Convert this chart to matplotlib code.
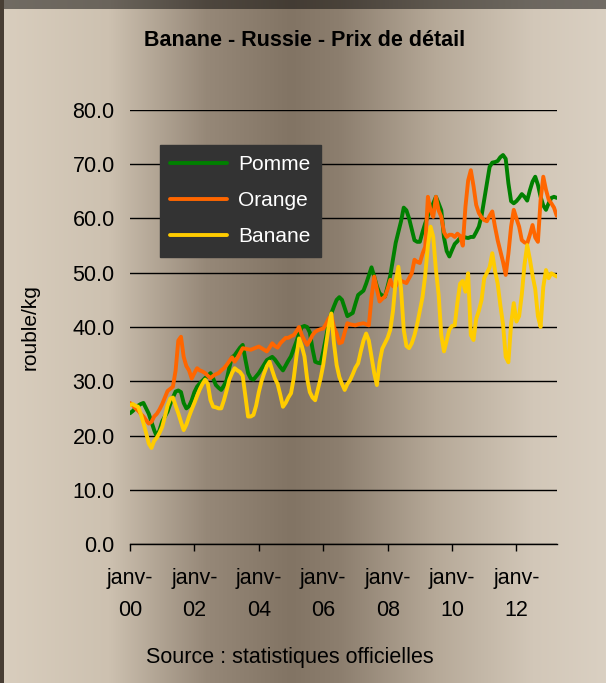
import matplotlib
matplotlib.use("Agg")
import matplotlib.pyplot as plt
import numpy as np

plt.rcParams['font.family'] = ['Liberation Sans', 'DejaVu Sans']

# monthly retail prices, Jan 2000 .. Apr 2013 (rouble/kg)
pomme = [24.1, 24.5, 25.0, 25.5, 25.8, 26.0, 25.0, 24.0, 22.5, 21.0, 19.8, 21.0,
         22.6, 23.5, 24.4, 25.8, 27.0, 28.1, 28.3, 28.0, 26.0, 25.0, 25.4, 26.5,
         28.0, 29.0, 29.6, 30.1, 30.6, 31.0, 31.5, 30.5, 29.3, 28.8, 28.4, 29.2,
         30.2, 32.5, 34.4, 34.8, 35.5, 36.2, 36.7, 34.0, 31.5, 30.5, 30.3, 30.9,
         31.5, 32.3, 33.1, 33.9, 34.2, 34.5, 34.0, 33.3, 32.6, 32.0, 32.9, 33.8,
         34.6, 36.0, 37.3, 38.7, 40.0, 40.2, 40.0, 39.0, 36.0, 33.6, 33.4, 33.3,
         35.5, 38.0, 40.5, 42.5, 43.8, 45.0, 45.5, 45.0, 43.5, 42.0, 42.3, 42.6,
         44.3, 45.9, 46.3, 46.7, 48.0, 49.5, 51.0, 49.3, 47.5, 46.2, 45.8, 45.6,
         47.5, 49.5, 52.5, 55.5, 57.5, 59.5, 62.0, 61.5, 60.0, 58.0, 56.0, 55.7,
         55.7, 57.5, 59.1, 60.5, 61.8, 62.8, 64.0, 62.8, 61.5, 56.5, 54.0, 53.0,
         54.2, 55.3, 55.8, 56.4, 56.7, 56.5, 56.4, 56.6, 56.6, 57.5, 58.5, 60.5,
         63.5, 66.5, 69.5, 70.3, 70.4, 70.6, 71.3, 71.7, 71.0, 66.5, 63.2, 62.8,
         63.2, 63.8, 64.5, 64.0, 63.3, 65.2, 66.8, 67.7, 66.2, 64.0, 62.4, 61.6,
         62.8, 63.8, 64.0, 63.8]

orange = [26.0, 25.6, 25.0, 24.6, 24.0, 23.5, 22.8, 22.2, 22.5, 23.5, 24.0, 24.8,
          25.8, 27.0, 28.2, 28.6, 29.0, 32.0, 37.5, 38.2, 34.5, 32.8, 32.0, 30.5,
          31.5, 32.4, 32.0, 31.8, 31.5, 31.0, 30.6, 31.0, 31.3, 31.5, 32.0, 32.4,
          33.0, 33.7, 34.4, 33.6, 34.3, 35.2, 36.1, 36.0, 35.9, 35.8, 36.0, 36.2,
          36.4, 36.1, 35.8, 35.5, 36.2, 37.0, 36.5, 36.2, 37.0, 37.5, 38.0, 38.0,
          38.3, 38.5, 39.2, 40.0, 38.5, 37.5, 36.7, 37.5, 38.5, 39.1, 39.4, 39.6,
          39.7, 40.5, 41.5, 42.2, 40.0, 38.8, 37.0, 37.2, 39.0, 40.7, 40.5, 40.4,
          40.3, 40.5, 40.6, 40.7, 40.5, 40.3, 45.5, 49.3, 47.0, 44.7, 45.2, 45.6,
          47.0, 48.7, 47.5, 47.5, 48.7, 48.5, 48.3, 48.1, 49.0, 49.9, 52.4, 52.0,
          51.8, 53.5, 54.8, 64.0, 61.5, 60.3, 64.0, 61.5, 60.3, 57.5, 56.6, 57.0,
          57.0, 56.6, 57.2, 56.8, 55.0, 62.2, 67.0, 68.9, 66.0, 62.5, 61.0, 60.2,
          59.7, 59.5, 60.5, 61.3, 58.5, 56.0, 54.0, 52.0, 49.6, 53.5, 58.5, 61.6,
          60.0, 58.5, 56.0, 55.6, 55.4, 57.0, 58.8, 56.5, 55.7, 63.4, 67.7, 65.3,
          63.5, 62.8, 62.0, 60.5]

banane = [25.6, 25.8, 25.5, 25.3, 24.0, 22.3, 20.5, 18.5, 17.7, 19.0, 19.6, 20.5,
          21.6, 23.5, 25.5, 26.8, 27.0, 25.5, 24.1, 22.5, 21.0, 22.0, 23.5, 24.8,
          26.0, 27.3, 28.5, 29.5, 30.3, 29.5, 26.5, 25.3, 25.2, 25.0, 25.0, 26.5,
          28.3, 30.3, 31.5, 32.4, 32.0, 31.7, 31.0, 27.2, 23.5, 23.5, 23.8, 25.5,
          28.0, 30.0, 31.5, 32.8, 33.6, 32.0, 30.5, 29.5, 27.5, 25.3, 26.0, 27.0,
          27.8, 30.5, 34.5, 37.9, 36.5, 34.6, 30.5, 28.0, 27.0, 26.5, 28.5, 30.5,
          33.0, 36.5, 40.0, 42.5, 37.0, 33.0, 30.8, 29.5, 28.4, 29.5, 30.2, 31.3,
          32.5, 33.3, 35.5, 37.5, 38.8, 37.5, 34.5, 31.5, 29.3, 33.5, 36.0, 37.0,
          38.0, 39.5, 43.0, 48.5, 51.1, 47.0, 39.5, 36.5, 36.1, 37.0, 38.5, 40.5,
          43.0, 45.5, 49.5, 55.0, 58.5, 56.6, 50.5, 46.0, 38.5, 35.5, 37.5, 39.5,
          40.2, 40.3, 44.5, 48.0, 48.5, 46.5, 49.9, 38.5, 37.6, 41.5, 43.0, 45.0,
          49.0, 50.0, 51.0, 53.6, 50.4, 48.0, 44.0, 40.5, 34.5, 33.5, 40.5, 44.4,
          41.0, 42.0, 46.0, 51.5, 55.1, 52.5, 49.5, 47.0, 42.0, 40.0, 47.4, 50.5,
          49.0, 49.9, 49.6, 49.3]

series = [("Pomme", pomme, "#008000"),
          ("Orange", orange, "#ff6600"),
          ("Banane", banane, "#ffcc00")]
tick_labels = ["janv-\n00", "janv-\n02", "janv-\n04", "janv-\n06",
               "janv-\n08", "janv-\n10", "janv-\n12"]

W, H = 606, 683
fig = plt.figure(figsize=(W / 100, H / 100), dpi=100)

# background: horizontal beige/brown gradient with a dark frame top and left
stops_x = [0.0, 0.18, 0.34, 0.48, 0.56, 0.72, 0.88, 1.0]
stops_c = np.array([[217, 206, 190], [205, 193, 176], [150, 136, 120],
                    [130, 116, 100], [140, 126, 110], [182, 169, 152],
                    [210, 199, 184], [218, 208, 194]]) / 255.0
xs = np.linspace(0, 1, W)
row = np.stack([np.interp(xs, stops_x, stops_c[:, k]) for k in range(3)], axis=1)
img = np.repeat(row[None, :, :], H, axis=0)
img[:9, :, :] *= 0.52
img[:, :4, :] = np.array([72, 62, 52]) / 255.0
bg = fig.add_axes([0, 0, 1, 1])
bg.imshow(img, aspect="auto", interpolation="bilinear")
bg.axis("off")

ax = fig.add_axes([130 / W, 1 - 544 / H, 426.7 / W, 434 / H])
ax.patch.set_alpha(0)
months = np.arange(len(pomme))
for name, vals, col in series:
    ax.plot(months, vals, color=col, lw=2.8, label=name, solid_capstyle="round")

ax.set_xlim(0, len(pomme) - 1)
ax.set_ylim(0, 80)
ax.set_yticks(np.arange(0, 81, 10))
ax.set_yticklabels(["%.1f" % v for v in np.arange(0, 81, 10)], fontsize=15.5)
ax.yaxis.grid(True, color="black", lw=1)
ax.set_axisbelow(True)
ax.tick_params(axis="y", length=0, pad=11)
ax.set_xticks(np.arange(0, len(pomme), 24))
ax.set_xticklabels(tick_labels, fontsize=15.5, linespacing=1.7)
ax.tick_params(axis="x", direction="out", length=5, width=1, pad=12)
for s in ["left", "top", "right"]:
    ax.spines[s].set_visible(False)
ax.spines["bottom"].set_linewidth(1)
ax.set_ylabel("rouble/kg", fontsize=15, labelpad=24)

leg = ax.legend(loc="upper left", bbox_to_anchor=(0.07, 0.92), fontsize=15,
                frameon=True, fancybox=False, facecolor="#333333",
                edgecolor="#333333", framealpha=1, labelcolor="white",
                handlelength=2.7, handletextpad=0.55, labelspacing=0.82,
                borderpad=0.5, borderaxespad=0)

fig.text(0.503, 1 - 40 / H, "Banane - Russie - Prix de détail",
         fontsize=15.5, fontweight="bold", ha="center", va="center")
fig.text(290 / W, 1 - 658 / H, "Source : statistiques officielles",
         fontsize=15.5, ha="center", va="center")

fig.savefig("out.png", dpi=100)
